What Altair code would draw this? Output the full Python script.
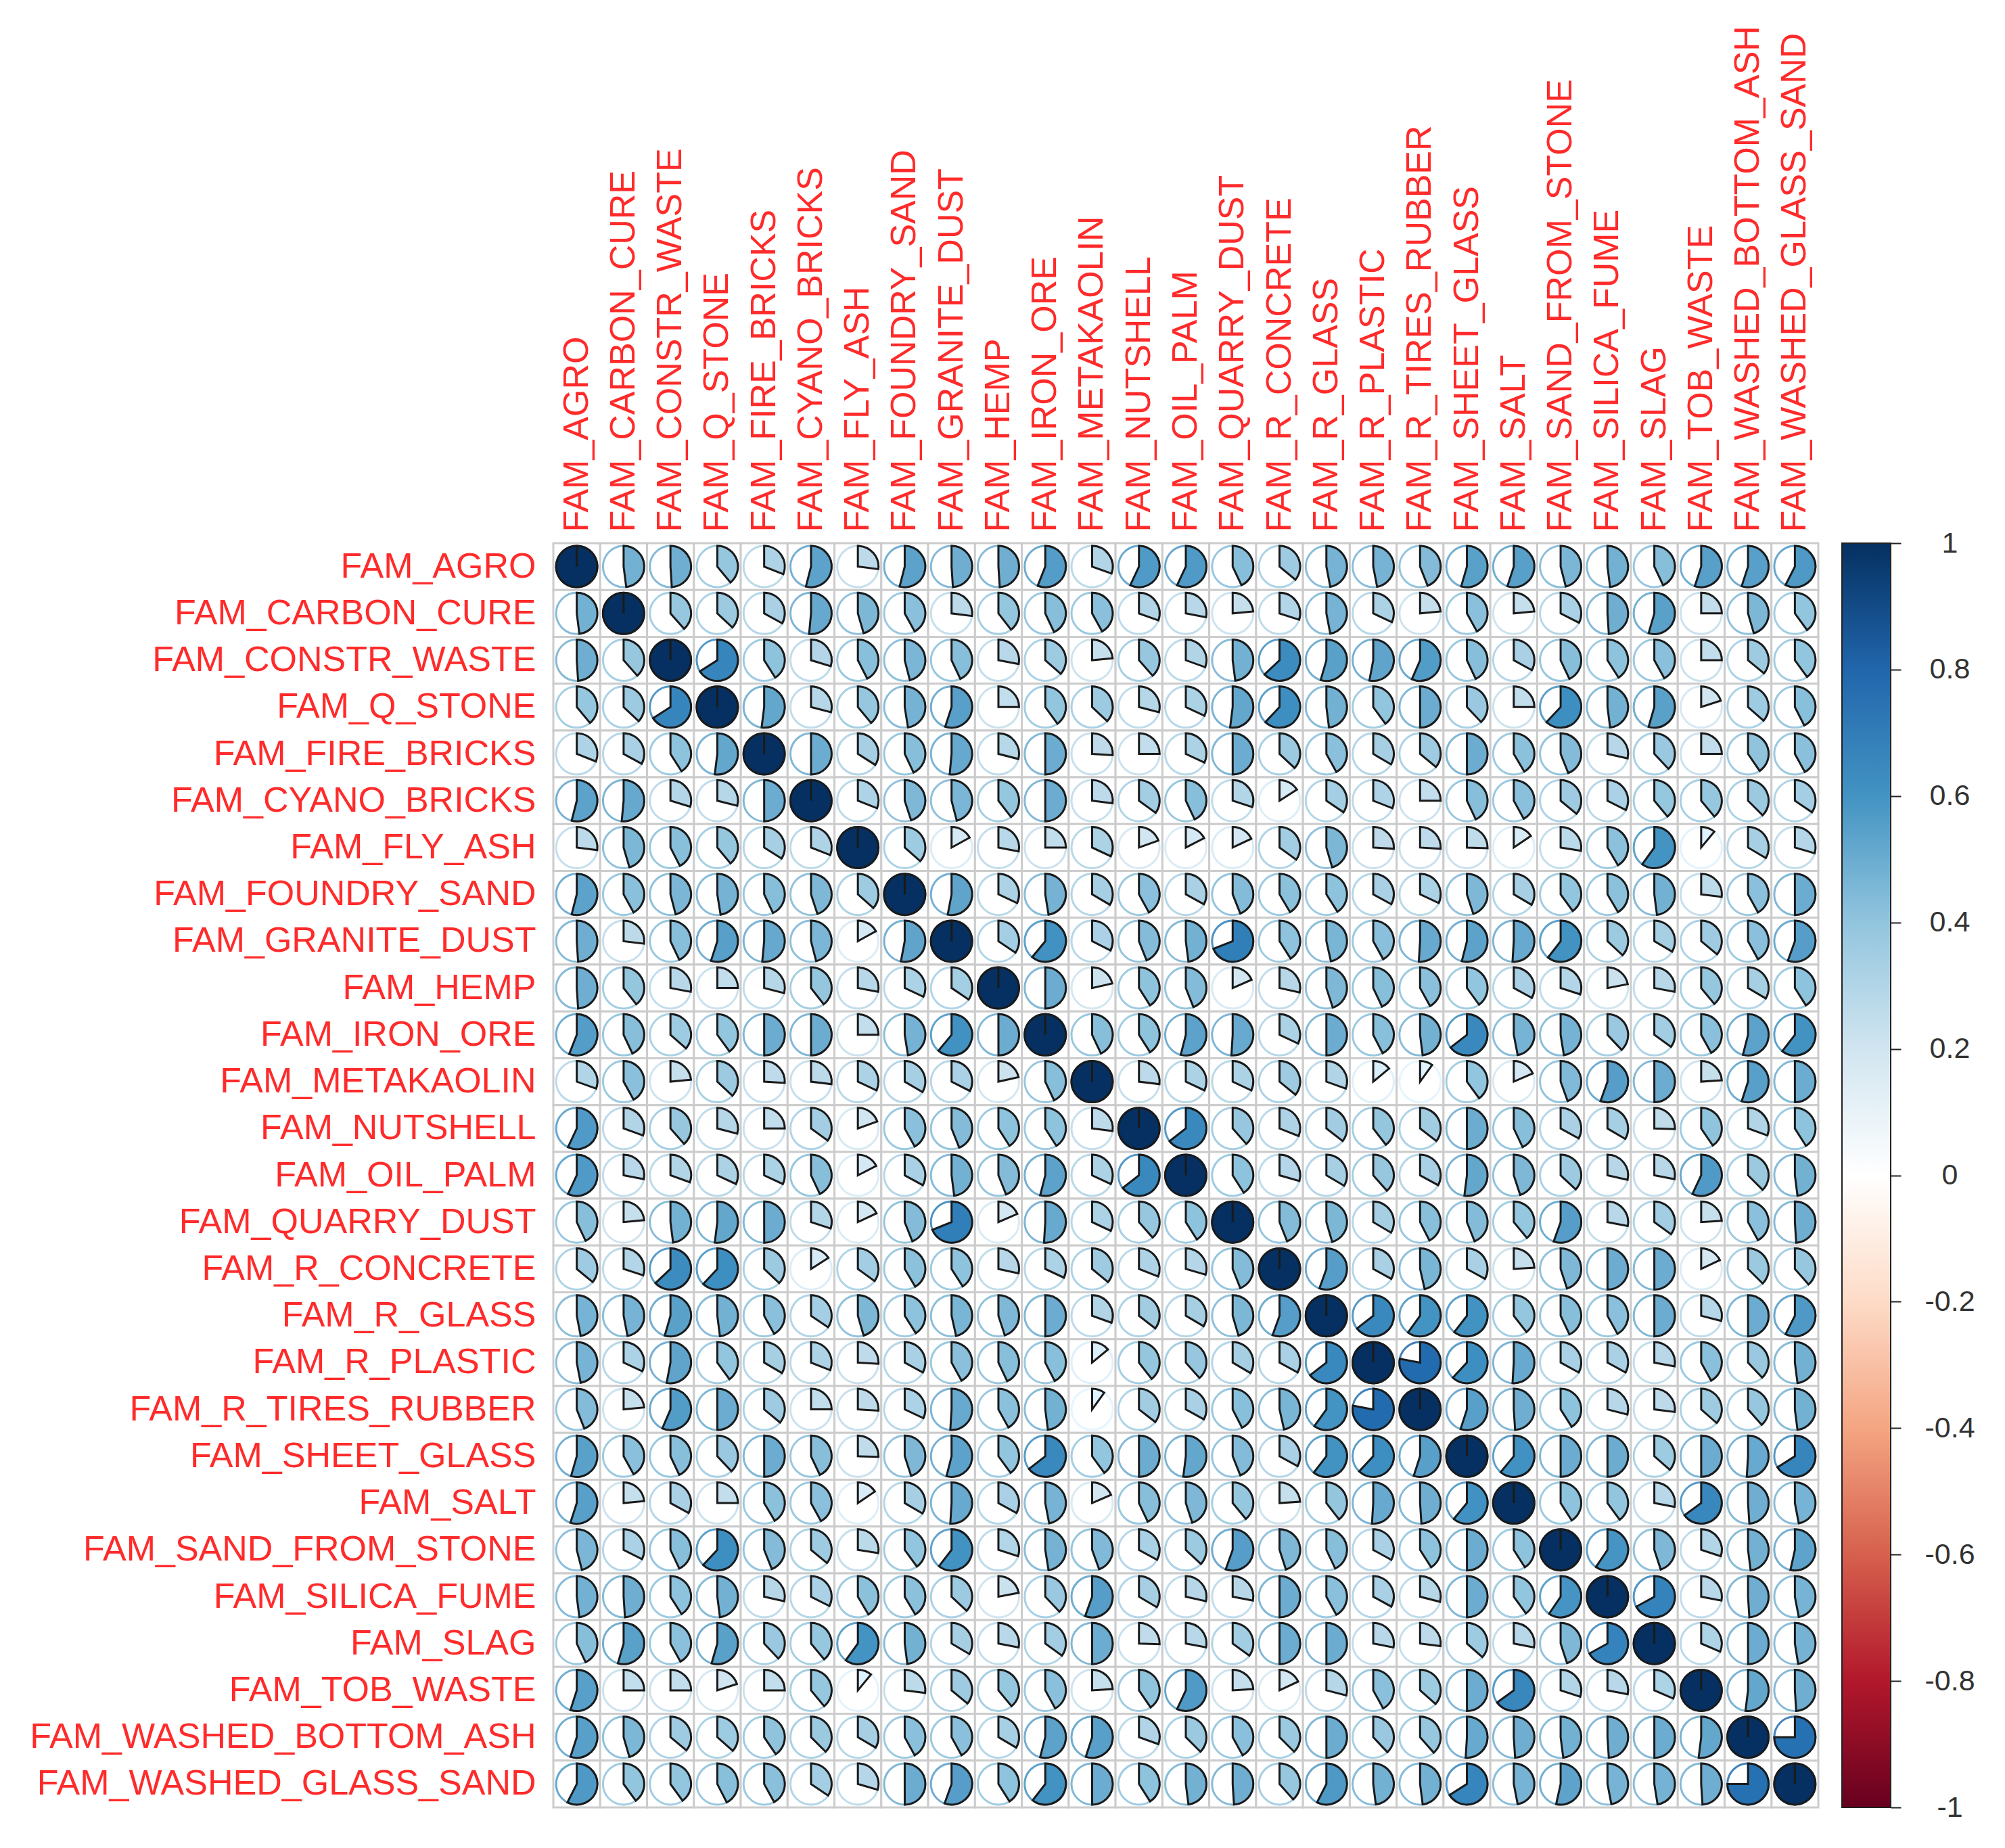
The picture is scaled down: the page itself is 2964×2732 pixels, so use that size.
import altair as alt
import pandas as pd

alt.data_transformers.disable_max_rows()

LABELS = ["FAM_AGRO","FAM_CARBON_CURE","FAM_CONSTR_WASTE","FAM_Q_STONE","FAM_FIRE_BRICKS","FAM_CYANO_BRICKS",
          "FAM_FLY_ASH","FAM_FOUNDRY_SAND","FAM_GRANITE_DUST","FAM_HEMP","FAM_IRON_ORE","FAM_METAKAOLIN",
          "FAM_NUTSHELL","FAM_OIL_PALM","FAM_QUARRY_DUST","FAM_R_CONCRETE","FAM_R_GLASS","FAM_R_PLASTIC",
          "FAM_R_TIRES_RUBBER","FAM_SHEET_GLASS","FAM_SALT","FAM_SAND_FROM_STONE","FAM_SILICA_FUME","FAM_SLAG",
          "FAM_TOB_WASTE","FAM_WASHED_BOTTOM_ASH","FAM_WASHED_GLASS_SAND"]

# upper triangle of the correlation matrix, one list per row, right of the diagonal
R01 = [.48,.49,.39,.31,.54,.27,.54,.49,.49,.56,.305,.57,.57,.43,.36,.47,.47,.44,.545,.55,.46,.48,.43,.55,.55,.575]
R02 = [.385,.37,.33,.515,.455,.42,.27,.395,.43,.42,.305,.28,.235,.30,.47,.32,.235,.42,.235,.325,.49,.545,.25,.455,.40]
R03 = [.66,.41,.297,.425,.46,.43,.28,.365,.235,.385,.305,.48,.63,.545,.53,.565,.43,.33,.43,.41,.42,.25,.36,.40]
R04 = [.52,.29,.39,.475,.55,.25,.40,.37,.29,.32,.52,.62,.48,.40,.50,.38,.25,.62,.48,.545,.20,.365,.425]
R05 = [.50,.34,.43,.515,.29,.50,.26,.25,.32,.50,.37,.42,.335,.36,.50,.415,.44,.285,.38,.25,.405,.42]
R06 = [.31,.45,.46,.395,.50,.27,.35,.43,.30,.16,.345,.31,.25,.43,.42,.36,.325,.39,.39,.375,.345]
R07 = [.365,.17,.28,.25,.32,.195,.175,.18,.35,.455,.26,.26,.255,.155,.275,.415,.60,.11,.335,.295]
R08 = [.53,.32,.475,.335,.42,.33,.44,.415,.41,.33,.32,.45,.335,.40,.415,.48,.27,.42,.50]
R09 = [.345,.61,.325,.44,.48,.69,.41,.465,.42,.51,.54,.51,.605,.37,.335,.36,.42,.555]
R10 = [.50,.215,.41,.44,.185,.285,.45,.43,.42,.40,.33,.30,.22,.28,.39,.335,.41]
R11 = [.43,.41,.54,.51,.32,.50,.425,.48,.645,.47,.475,.38,.35,.42,.54,.605]
R12 = [.27,.32,.32,.36,.305,.14,.10,.40,.185,.445,.555,.50,.24,.55,.50]
R13 = [.645,.385,.31,.355,.395,.355,.50,.43,.33,.335,.255,.405,.305,.41]
R14 = [.41,.295,.335,.385,.33,.52,.45,.37,.285,.28,.57,.375,.48]
R15 = [.44,.455,.335,.425,.44,.39,.555,.28,.35,.24,.42,.49]
R16 = [.555,.33,.465,.33,.24,.45,.50,.50,.18,.375,.385]
R17 = [.645,.60,.605,.395,.43,.42,.50,.29,.50,.575]
R18 = [.78,.62,.51,.33,.33,.28,.42,.38,.48]
R19 = [.55,.49,.41,.29,.27,.365,.385,.48]
R20 = [.61,.50,.50,.365,.50,.51,.66]
R21 = [.41,.40,.28,.65,.49,.47]
R22 = [.595,.45,.30,.48,.535]
R23 = [.67,.28,.49,.47]
R24 = [.315,.50,.475]
R25 = [.52,.49]
R26 = [.75]
UPPER = [R01,R02,R03,R04,R05,R06,R07,R08,R09,R10,R11,R12,R13,R14,R15,R16,R17,R18,R19,R20,R21,R22,R23,R24,R25,R26]

PALETTE = ["#67001F","#B2182B","#D6604D","#F4A582","#FDDBC7","#FFFFFF","#D1E5F0","#92C5DE","#4393C3","#2166AC","#053061"]
STOPS = [-1,-.8,-.6,-.4,-.2,0,.2,.4,.6,.8,1]
BAR_TICKS = [1,.8,.6,.4,.2,0,-.2,-.4,-.6,-.8,-1]

recs = []
for i, a in enumerate(LABELS):
    recs.append({"row": a, "col": a, "r": 1.0, "zero": 0})
for i, vals in enumerate(UPPER):
    for k, v in enumerate(vals):
        j = i + 1 + k
        recs.append({"row": LABELS[i], "col": LABELS[j], "r": v, "zero": 0})
        recs.append({"row": LABELS[j], "col": LABELS[i], "r": v, "zero": 0})
df = pd.DataFrame(recs)

FONT = "Liberation Sans"
RED = "#FF2B2B"
X = alt.X("col:N", scale=alt.Scale(domain=LABELS, paddingInner=0, paddingOuter=0),
          axis=alt.Axis(orient="top", title=None, labelAngle=-90, labelAlign="left", labelBaseline="middle",
                        labelFontSize=52, labelFont=FONT, labelColor=RED, labelPadding=17, labelLimit=1200,
                        labelOverlap=False, ticks=False, domain=False, grid=False))
Y = alt.Y("row:N", scale=alt.Scale(domain=LABELS, paddingInner=0, paddingOuter=0),
          axis=alt.Axis(title=None, labelFontSize=52, labelFont=FONT, labelColor=RED, labelPadding=26, labelLimit=1200,
                        labelOverlap=False, ticks=False, domain=False, grid=False))
COLOR = alt.Color("r:Q", scale=alt.Scale(domain=STOPS, range=PALETTE), legend=None)
THETA = alt.Theta("r:Q", stack=None, scale=alt.Scale(domain=[0, 1], range=[0, 6.28]))

cells = alt.Chart(df).mark_rect(fill="white", stroke="#CCCCCC", strokeWidth=3).encode(x=X, y=Y)
rings = alt.Chart(df).mark_point(filled=False, size=3721, strokeWidth=3, opacity=0.85).encode(x=X, y=Y, color=COLOR)
pies = alt.Chart(df).mark_arc(radius=30.5, stroke="#1A1A1A", strokeWidth=3).encode(
    x=X, y=Y, theta=THETA, theta2=alt.Theta2("zero:Q"), color=COLOR)
matrix = alt.layer(cells, rings, pies).properties(width=1870, height=1869)

bar_df = pd.DataFrame({"lo": [-1], "hi": [1]})
grad = alt.LinearGradient(gradient="linear", x1=0, x2=0, y1=1, y2=0,
                          stops=[alt.GradientStop(offset=(s + 1) / 2, color=c) for s, c in zip(STOPS, PALETTE)])
bar = alt.Chart(bar_df).mark_rect(fill=grad, stroke="#222222", strokeWidth=2).encode(
    y=alt.Y("lo:Q", scale=alt.Scale(domain=[-1, 1], nice=False),
            axis=alt.Axis(orient="right", title=None, values=BAR_TICKS, labelExpr="'' + datum.value",
                          labelFontSize=43, labelFont=FONT, labelColor="#333333", labelAlign="center",
                          labelBaseline="middle", labelPadding=72, tickSize=15, tickColor="#222222", tickWidth=2,
                          domain=False, grid=False, labelOverlap=False)),
    y2="hi:Q").properties(width=72, height=1869)

chart = alt.hconcat(matrix, bar, spacing=35, bounds="flush").properties(
    padding={"left": 35, "top": 29, "right": 20, "bottom": 20}
).configure_view(stroke=None)

chart.save("out.html", embed_options={"renderer": "svg", "actions": False})
